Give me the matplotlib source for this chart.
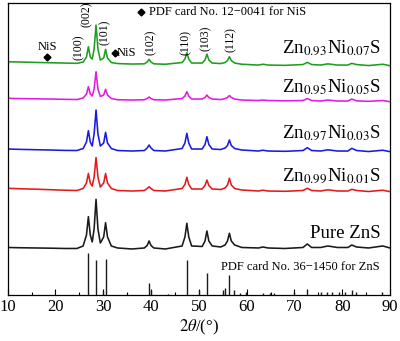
import matplotlib
matplotlib.use("Agg")
import matplotlib.pyplot as plt
import numpy as np

plt.rcParams['font.family'] = ['Liberation Serif', 'DejaVu Serif']
plt.rcParams['mathtext.fontset'] = 'stix'

# 2theta knots (deg)
two_theta = [10, 13, 16, 19, 22, 24.5, 25.8, 26.5, 26.9, 27.3, 27.7, 28.1, 28.5, 28.9, 29.4,
             30.1, 30.5, 30.9, 31.7, 33, 36, 38.6, 39.2, 39.6, 40.0, 40.6, 43, 46.5, 47.1,
             47.5, 47.9, 48.5, 50.7, 51.3, 51.7, 52.1, 52.8, 54.6, 55.5, 56.0, 56.4, 56.8,
             57.5, 59, 62.5, 63.4, 64.5, 68, 71.8, 72.7, 73.6, 75.5, 77, 79, 81.2, 82.0,
             83, 85.5, 88.5, 90]

# intensities (a.u.)
pure_zns = [1.5, 1.2, 1.0, 0.8, 0.5, 0.5, 3, 14, 32.3, 14, 7, 20, 49.7, 20, 6,
            12, 26.3, 12, 3, 1, 0, 1, 3.5, 8, 3.5, 1, 0, 3, 12,
            25.7, 12, 3, 2.5, 8, 18, 8, 3, 2, 4, 8, 15.7, 8,
            4, 1.5, 1, 2, 1, 0.5, 1.5, 5, 1.5, 1.5, 3, 1.5, 1.5, 4,
            2, 1, 3, 1]
ni_001 = [2.7, 2.2, 1.8, 1.3, 0.8, 0.5, 2.5, 8, 17.5, 8, 5, 14, 33.5, 14, 4,
          8, 17.5, 8, 2.5, 0.5, 0, 0.5, 2.5, 4.3, 2.5, 0.5, 0, 2.5, 6.5,
          13.7, 6.5, 2, 2, 5.5, 11, 5.5, 2, 1.5, 3, 6, 12.7, 6,
          2.5, 1, 0, 0.8, 0, -0.3, 0.5, 2.7, 0.5, 0, 1.2, 0, 0, 1.7,
          0.5, -0.5, 0.8, -0.7]
ni_003 = [2.0, 1.6, 1.3, 1.0, 0.6, 0.5, 2.5, 9, 20.3, 9, 5, 17, 41, 17, 5,
          8, 18.7, 8, 2.5, 0.5, 0, 0.5, 3, 6, 3, 0.5, 0, 2.5, 8,
          17.7, 8, 2, 2, 6.5, 14.3, 6.5, 2, 1.5, 3, 5.5, 11, 5.5,
          2.5, 1, 0, 0.8, 0, -0.3, 0.5, 3.3, 0.5, 0, 1.2, 0, 0, 2.7,
          0.5, -0.5, 0.8, -0.7]
ni_005 = [1.7, 1.4, 1.2, 1.0, 0.7, 0.5, 2, 6, 13.3, 6, 4, 11, 28.3, 11, 3.5,
          5, 10.7, 5, 1.5, 0.3, 0, 0.3, 1.5, 3, 1.5, 0.3, 0, 1.5, 4,
          8.3, 4, 1, 1, 2.5, 5, 2.5, 1, 0.5, 1.5, 2.5, 4.5, 2.5,
          1, 0, -0.5, 0, -0.5, -0.8, -0.5, 1.5, -0.5, -1, 0, -1, -1, 1,
          -0.8, -1.3, -0.5, -1.7]
ni_007 = [3.3, 3.0, 2.6, 2.3, 2.0, 1.7, 3, 8, 18.3, 8, 6, 16, 40, 16, 5,
          7, 15.7, 7, 2.5, 1.5, 1, 1.2, 3, 5.7, 3, 1.2, 0.8, 2.5, 6,
          12.3, 6, 2, 2, 5, 11, 5, 2, 1.5, 2.5, 4.5, 8.3, 4.5,
          2, 0.8, 0, 0.8, 0, -0.3, 0.5, 2.7, 0.5, 0, 1.2, 0, 0, 1.7,
          0.5, -0.5, 0.8, -0.7]

series = [pure_zns, ni_001, ni_003, ni_005, ni_007]
offsets = [46, 104, 144, 195, 230]
colors = ['#1a1a1a', '#e41a1a', '#1a1ae0', '#e21ae2', '#1e9e1e']
labels = ['Pure ZnS', r'Zn$_{0.99}$Ni$_{0.01}$S', r'Zn$_{0.97}$Ni$_{0.03}$S',
          r'Zn$_{0.95}$Ni$_{0.05}$S', r'Zn$_{0.93}$Ni$_{0.07}$S']
label_y = [56.7, 114, 156.7, 203.3, 242]

# PDF card No. 36-1450 (ZnS) stick pattern
pdf_pos = [26.9, 28.5, 29.95, 30.5, 35.0, 39.6, 40.0, 43.5, 47.5, 50.0, 51.7, 55.0, 55.4,
           56.4, 57.4, 58.7, 59.9, 63.4, 64.9, 65.8, 70.0, 72.7, 75.5, 76.85, 77.9,
           79.3, 80.6, 82.0, 82.9, 88.3]
pdf_int = [41.7, 35, 4, 35.7, 1, 12.3, 5, 1, 35, 5, 22.3, 5, 6.7,
           20, 5, 1.5, 3.3, 2, 2, 1.5, 3.3, 5.7, 3, 3, 3,
           3, 3, 5, 2.5, 3]

hkl = ['(100)', '(002)', '(101)', '(102)', '(110)', '(103)', '(112)']
hkl_x = [24.9, 26.6, 30.4, 39.9, 47.3, 51.5, 56.7]
hkl_y = [247.5, 281, 263, 253, 252.5, 256.5, 255]

fig = plt.figure(figsize=(4.0, 3.41), dpi=100)
ax = fig.add_axes([0.019, 0.135, 0.956, 0.856])

for s, off, c in zip(series, offsets, colors):
    ax.plot(two_theta, np.array(s) + off, color=c, lw=1.15)

ax.vlines(pdf_pos, 0, pdf_int, color='#1a1a1a', lw=1.0)

for t, y in zip(labels, label_y):
    ax.text(88.1, y, t, ha='right', va='baseline', fontsize=13.5)

for t, x, y in zip(hkl, hkl_x, hkl_y):
    ax.text(x, y, t, rotation=90, ha='center', va='center', fontsize=8.5)

# NiS markers
ax.plot([18.3, 32.5, 38.0], [238.3, 241.7, 283.3], 'kD', ms=3.5)
ax.text(18.3, 248, 'NiS', ha='center', va='center', fontsize=9)
ax.text(32.9, 241.7, 'NiS', ha='left', va='center', fontsize=9)
ax.text(39.6, 283.3, 'PDF card No. 12\u22120041 for NiS', ha='left', va='center', fontsize=9)
ax.text(87.8, 28.3, 'PDF card No. 36\u22121450 for ZnS', ha='right', va='center', fontsize=9)

ax.set_xlim(10, 90)
ax.set_ylim(0, 292)
ax.set_xticks(range(10, 91, 10))
ax.set_xticks(range(15, 90, 10), minor=True)
ax.tick_params(axis='x', direction='in', length=4, width=0.8, labelsize=12, pad=3)
ax.tick_params(axis='x', which='minor', direction='in', length=2, width=0.8)
ax.set_yticks([])
for sp in ax.spines.values():
    sp.set_linewidth(0.9)
ax.set_xlabel(r'$\mathit{2\theta}$/(°)', fontsize=12, labelpad=2)

fig.savefig('out.png', dpi=100)
